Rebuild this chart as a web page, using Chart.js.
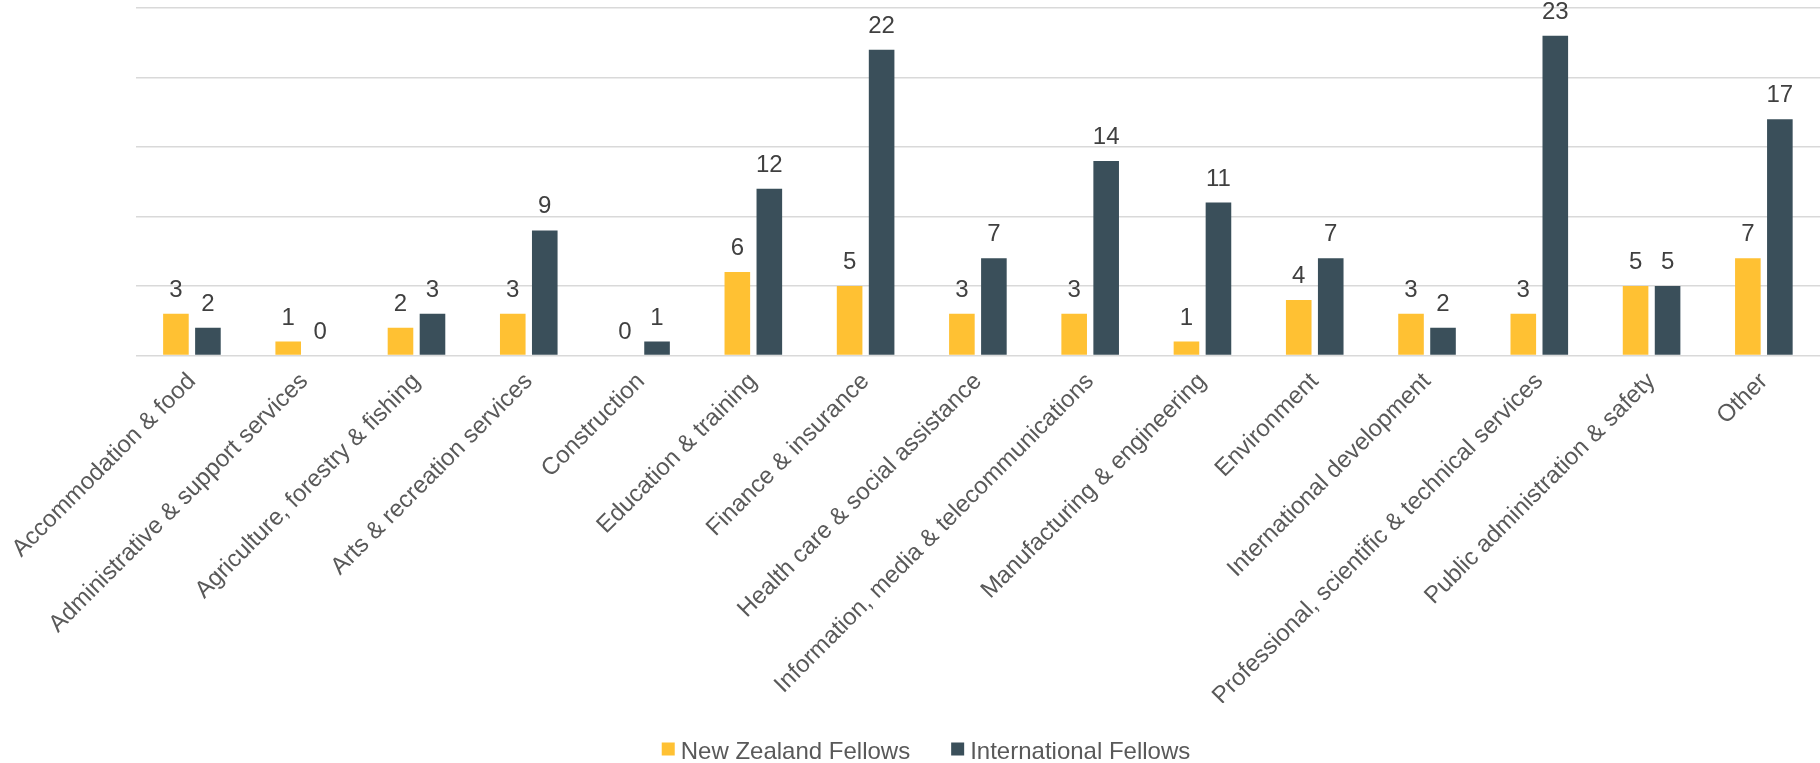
<!DOCTYPE html>
<html>
<head>
<meta charset="utf-8">
<script src="https://cdn.jsdelivr.net/npm/chart.js@4/dist/chart.umd.min.js"></script>
<style>
  html, body { margin: 0; padding: 0; background: #ffffff; }
  #wrap { width: 1820px; height: 763px; position: relative; }
</style>
</head>
<body>
<div id="wrap"><canvas id="c"></canvas></div>
<script>
const categories = [
  "Accommodation & food",
  "Administrative & support services",
  "Agriculture, forestry & fishing",
  "Arts & recreation services",
  "Construction",
  "Education & training",
  "Finance & insurance",
  "Health care & social assistance",
  "Information, media & telecommunications",
  "Manufacturing & engineering",
  "Environment",
  "International development",
  "Professional, scientific & technical services",
  "Public administration & safety",
  "Other"
];
const seriesNames = ["New Zealand Fellows", "International Fellows"];
const nzFellows = [3, 1, 2, 3, 0, 6, 5, 3, 3, 1, 4, 3, 3, 5, 7];
const intlFellows = [2, 0, 3, 9, 1, 12, 22, 7, 14, 11, 7, 2, 23, 5, 17];
const yTicks = [0, 5, 10, 15, 20, 25];

const COLORS = ["#FFC133", "#3A4F5A"];
const FONT = "'Liberation Sans', Arial, sans-serif";

const dataLabels = {
  id: "dataLabels",
  afterDatasetsDraw(chart) {
    const ctx = chart.ctx;
    ctx.save();
    ctx.font = "24px " + FONT;
    ctx.fillStyle = "#404040";
    ctx.textAlign = "center";
    ctx.textBaseline = "alphabetic";
    chart.data.datasets.forEach((ds, di) => {
      const meta = chart.getDatasetMeta(di);
      meta.data.forEach((el, i) => {
        ctx.fillText(String(ds.data[i]), el.x, el.y - 17);
      });
    });
    ctx.restore();
  }
};

const customLegend = {
  id: "customLegend",
  afterDraw(chart) {
    const ctx = chart.ctx;
    ctx.save();
    ctx.font = "24px " + FONT;
    const box = 13, gapText = 6, gapItem = 41;
    const items = chart.data.datasets.map(ds => ({ text: ds.label, color: ds.backgroundColor, w: ctx.measureText(ds.label).width }));
    let total = 0;
    items.forEach((it, i) => { total += box + gapText + it.w + (i < items.length - 1 ? gapItem : 0); });
    let x = chart.width / 2 + 16 - total / 2;
    const baseY = chart.height - 4;
    items.forEach(it => {
      ctx.fillStyle = it.color;
      ctx.fillRect(x, baseY - 16.5, box, box);
      ctx.fillStyle = "#595959";
      ctx.textAlign = "left";
      ctx.textBaseline = "alphabetic";
      ctx.fillText(it.text, x + box + gapText, baseY);
      x += box + gapText + it.w + gapItem;
    });
    ctx.restore();
  }
};

new Chart(document.getElementById("c"), {
  type: "bar",
  data: {
    labels: categories,
    datasets: [
      { label: seriesNames[0], data: nzFellows, backgroundColor: COLORS[0], borderWidth: 0, categoryPercentage: 0.57, barPercentage: 0.8 },
      { label: seriesNames[1], data: intlFellows, backgroundColor: COLORS[1], borderWidth: 0, categoryPercentage: 0.57, barPercentage: 0.8 }
    ]
  },
  options: {
    responsive: true,
    maintainAspectRatio: false,
    animation: false,
    layout: { padding: { left: 134, right: 0, top: 8, bottom: 60 } },
    plugins: {
      legend: { display: false },
      tooltip: { enabled: false }
    },
    scales: {
      x: {
        grid: { display: false, drawTicks: false },
        border: { display: false },
        ticks: {
          autoSkip: false,
          maxRotation: 45,
          minRotation: 45,
          padding: 12,
          color: "#595959",
          font: { family: FONT, size: 24 }
        }
      },
      y: {
        min: yTicks[0],
        max: yTicks[yTicks.length - 1],
        afterBuildTicks(scale) { scale.ticks = yTicks.map(v => ({ value: v })); },
        grid: { color: "#d9d9d9", lineWidth: 1.5, drawTicks: false },
        border: { display: false },
        ticks: { display: false }
      }
    }
  },
  plugins: [dataLabels, customLegend]
});
</script>
</body>
</html>
